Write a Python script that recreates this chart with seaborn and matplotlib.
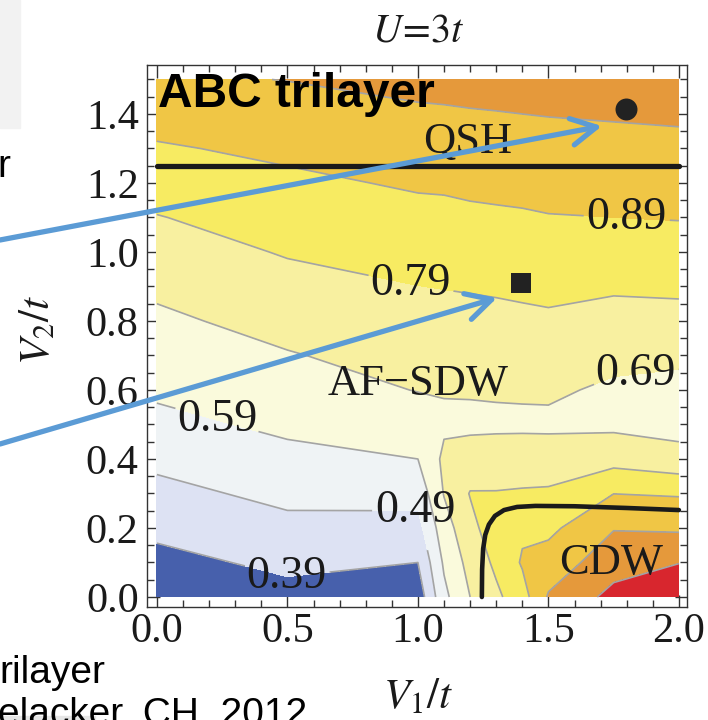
import numpy as np
import matplotlib
matplotlib.use("Agg")
import matplotlib.pyplot as plt
import seaborn as sns
from matplotlib.ticker import MultipleLocator, FormatStrFormatter
from matplotlib.patches import Rectangle

# ---------------------------------------------------------------------------
# Phase diagram data: order-parameter value on a (V1/t, V2/t) grid, U = 3t
# ---------------------------------------------------------------------------
v1_grid = [0.0, 0.5, 1.0, 1.1, 1.2, 1.3, 1.4, 1.5, 1.75, 2.0]
v2_grid = [0.0, 0.1, 0.2, 0.3, 0.4, 0.5, 0.6, 0.7,
           0.8, 0.9, 1.0, 1.1, 1.2, 1.3, 1.4, 1.5]

# one column of values (bottom -> top) for every V1/t
z_v1_000 = [0.31, 0.362, 0.412, 0.462, 0.513, 0.564, 0.606, 0.639, 0.672, 0.708, 0.747, 0.786, 0.833, 0.880, 0.928, 0.975]
z_v1_050 = [0.36, 0.411, 0.464, 0.515, 0.565, 0.609, 0.647, 0.684, 0.722, 0.760, 0.797, 0.834, 0.871, 0.910, 0.951, 0.992]
z_v1_100 = [0.33, 0.390, 0.457, 0.523, 0.590, 0.643, 0.693, 0.725, 0.757, 0.789, 0.826, 0.863, 0.901, 0.939, 0.977, 1.015]
z_v1_110 = [0.565, 0.604, 0.647, 0.695, 0.710, 0.675, 0.695, 0.728, 0.760, 0.793, 0.830, 0.866, 0.903, 0.942, 0.980, 1.017]
z_v1_120 = [0.69, 0.724, 0.759, 0.795, 0.730, 0.672, 0.697, 0.730, 0.763, 0.797, 0.835, 0.872, 0.910, 0.947, 0.984, 1.020]
z_v1_130 = [0.77, 0.810, 0.850, 0.795, 0.733, 0.674, 0.699, 0.733, 0.767, 0.801, 0.839, 0.876, 0.914, 0.950, 0.987, 1.020]
z_v1_140 = [0.85, 0.900, 0.875, 0.800, 0.736, 0.674, 0.701, 0.736, 0.771, 0.807, 0.843, 0.880, 0.917, 0.953, 0.990, 1.025]
z_v1_150 = [1.00, 0.933, 0.867, 0.803, 0.738, 0.672, 0.704, 0.740, 0.776, 0.812, 0.849, 0.886, 0.922, 0.958, 0.993, 1.030]
z_v1_175 = [1.12, 1.048, 0.985, 0.889, 0.755, 0.670, 0.675, 0.714, 0.758, 0.802, 0.846, 0.890, 0.926, 0.963, 0.998, 1.030]
z_v1_200 = [1.15, 1.088, 0.976, 0.881, 0.720, 0.660, 0.660, 0.710, 0.760, 0.807, 0.851, 0.894, 0.931, 0.968, 1.003, 1.040]

contour_levels = [0.39, 0.49, 0.59, 0.69, 0.79, 0.89, 0.99, 1.09]
labelled_levels = [0.39, 0.49, 0.59, 0.69, 0.79, 0.89]
fill_colors = ["#4760ac", "#dde2f3", "#eff3f5", "#fafadc", "#f8f0a0",
               "#f7eb62", "#f0c645", "#e5993b", "#d8262e"]

# label anchor points (V1/t, V2/t) for the contour values
label_v1 = [0.50, 0.99, 0.23, 1.83, 0.97, 1.80]
label_v2 = [0.067, 0.258, 0.513, 0.675, 0.896, 1.096]

# phase boundaries
qsh_boundary_v1 = [0.0, 2.0]
qsh_boundary_v2 = [1.25, 1.25]
cdw_boundary_v1 = [1.245, 1.246, 1.250, 1.258, 1.272, 1.295, 1.330, 1.380, 1.450, 1.600, 1.800, 2.000]
cdw_boundary_v2 = [0.000, 0.080, 0.140, 0.180, 0.210, 0.235, 0.252, 0.261, 0.264, 0.263, 0.258, 0.252]

# highlighted parameter points
point_circle = (1.797, 1.414)
point_square = (1.395, 0.910)

# phase names
phase_names = ["QSH", "AF\u2212SDW", "CDW"]
phase_v1 = [1.19, 1.00, 1.74]
phase_v2 = [1.32, 0.617, 0.098]

# ---------------------------------------------------------------------------
sns.set_theme(style="ticks")
plt.rcParams["font.family"] = ["Liberation Serif", "DejaVu Serif"]
plt.rcParams["mathtext.fontset"] = "stix"

W, H = 708, 720
fig = plt.figure(figsize=(W / 100, H / 100), dpi=100)
fig.patch.set_facecolor("white")
ax = fig.add_axes([147 / W, 1 - 607 / H, 540 / W, 542 / H])
ax.set_facecolor("white")

V1, V2 = np.meshgrid(v1_grid, v2_grid)
Z = np.column_stack([z_v1_000, z_v1_050, z_v1_100, z_v1_110, z_v1_120,
                     z_v1_130, z_v1_140, z_v1_150, z_v1_175, z_v1_200])

ax.contourf(V1, V2, Z, levels=[-10] + contour_levels + [10],
            colors=fill_colors, zorder=1)
cs = ax.contour(V1, V2, Z, levels=contour_levels, colors="#a4a4a4",
                linewidths=1.2, zorder=2)

ax.set_xlim(-0.038, 2.031)
ax.set_ylim(-0.029, 1.542)

labels = ax.clabel(cs, levels=labelled_levels, fmt="%.2f", inline=True,
                   inline_spacing=3, fontsize=33, colors="#1a1a1a",
                   manual=list(zip(label_v1, label_v2)))
for t in labels:
    t.set_rotation(0)

# phase boundaries
sns.lineplot(x=qsh_boundary_v1, y=qsh_boundary_v2, ax=ax, color="#1a1a1a",
             lw=3.8, sort=False, estimator=None, zorder=4)
sns.lineplot(x=cdw_boundary_v1, y=cdw_boundary_v2, ax=ax, color="#1a1a1a",
             lw=3.3, sort=False, estimator=None, zorder=4)

# marked parameter points
sns.scatterplot(x=[point_circle[0]], y=[point_circle[1]], ax=ax, marker="o",
                s=250, color="#222222", linewidth=0, zorder=5)
sns.scatterplot(x=[point_square[0]], y=[point_square[1]], ax=ax, marker="s",
                s=225, color="#222222", linewidth=0, zorder=5)

for name, x, y in zip(phase_names, phase_v1, phase_v2):
    ax.text(x, y, name, ha="center", va="center", fontsize=32,
            color="#1a1a1a", zorder=6)

ax.text(0.004, 1.42, "ABC trilayer", ha="left", va="baseline",
        fontsize=34.5, fontweight="bold", family=["Liberation Sans"],
        color="black", zorder=7)

# frame and ticks
for sp in ax.spines.values():
    sp.set_visible(True)
    sp.set_color("#333333")
    sp.set_linewidth(1.0)
ax.xaxis.set_major_locator(MultipleLocator(0.5))
ax.xaxis.set_minor_locator(MultipleLocator(0.1))
ax.yaxis.set_major_locator(MultipleLocator(0.2))
ax.yaxis.set_minor_locator(MultipleLocator(0.05))
ax.xaxis.set_major_formatter(FormatStrFormatter("%.1f"))
ax.yaxis.set_major_formatter(FormatStrFormatter("%.1f"))
ax.tick_params(which="both", direction="in", top=True, right=True,
               color="#333333", width=1.0)
ax.tick_params(which="major", length=9, labelsize=30.5, labelcolor="#1a1a1a")
ax.tick_params(which="minor", length=5)
ax.tick_params(axis="x", which="major", pad=4)
ax.tick_params(axis="y", which="major", pad=6)
ax.set_xlabel("")
ax.set_ylabel("")

# titles and axis labels
fig.text(418 / W, 1 - 42 / H, r"$U\!=\!3t$", ha="center", va="baseline",
         fontsize=29, color="#1a1a1a")
fig.text(418 / W, 1 - 708 / H, r"$V_1/t$", ha="center", va="baseline",
         fontsize=31, color="#1a1a1a")
fig.text(38 / W, 1 - 330 / H, r"$V_2/t$", ha="center", va="center",
         rotation=90, fontsize=31, color="#1a1a1a")

# arrows pointing to the marked points
arrow_kw = dict(arrowstyle="->,head_length=0.45,head_width=0.24",
                color="#5b9bd5", lw=3.8, mutation_scale=40,
                shrinkA=0, shrinkB=0)
ax.annotate("", xy=(1.705, 1.365), xycoords="data",
            xytext=(0, 1 - 240 / H), textcoords="figure fraction",
            arrowprops=arrow_kw, annotation_clip=False, zorder=8)
ax.annotate("", xy=(1.303, 0.867), xycoords="data",
            xytext=(0, 1 - 444 / H), textcoords="figure fraction",
            arrowprops=arrow_kw, annotation_clip=False, zorder=8)

# surrounding slide fragments
fig.add_artist(Rectangle((0, 1 - 128 / H), 20 / W, 128 / H,
                         transform=fig.transFigure, color="#f2f2f2",
                         zorder=0))
fig.add_artist(Rectangle((0, 0), 95 / W, 4 / H,
                         transform=fig.transFigure, color="#e6e6e6",
                         zorder=0))
sans = ["Liberation Sans", "DejaVu Sans"]
fig.text(10 / W, 1 - 177 / H, "r", ha="right", va="baseline",
         fontsize=28, family=sans, color="black")
fig.text(-1 / W, 1 - 683 / H, "rilayer", ha="left", va="baseline",
         fontsize=28, family=sans, color="black")
fig.text(-2 / W, 1 - 725 / H, "elacker, CH, 2012", ha="left", va="baseline",
         fontsize=28, family=sans, color="black")

fig.savefig("out.png", dpi=100)
